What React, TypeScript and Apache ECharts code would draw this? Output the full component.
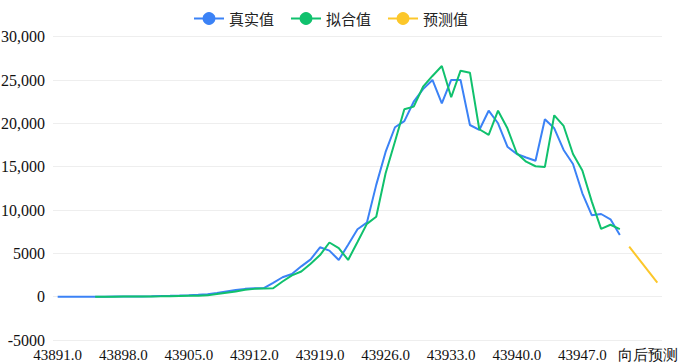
import React, { useEffect, useRef } from "react";
import * as echarts from "echarts";

const dateCategories: string[] = [];
for (let d = 43891; d <= 43951; d++) dateCategories.push(d.toFixed(1));
const forecastCategories = ["向后预测", "向后预测", "向后预测", "向后预测"];
const categories = [...dateCategories, ...forecastCategories];

const actualValues = [
  0, 0, 0, 0, 0, 0, 10, 10, 20, 30, 50, 80, 100, 130, 170, 220, 280, 420, 600, 770,
  900, 970, 1000, 1600, 2240, 2620, 3500, 4300, 5700, 5310, 4240, 6000, 7780, 8540, 12900, 16700,
  19550, 20250, 22500, 23950, 25010, 22320, 25010, 25010, 19810, 19240, 21460, 20010, 17310, 16470,
  16060, 15690, 20470, 19430, 16930, 15310, 11930, 9400, 9540, 8930, 7120,
];

const fittedValues = [
  null, null, null, null, 0, 0, 5, 10, 15, 20, 30, 40, 60, 80, 100, 120, 150, 300, 450, 600,
  800, 900, 950, 970, 1750, 2450, 2900, 3800, 4800, 6250, 5600, 4240, 6300, 8400, 9230, 14240,
  17900, 21630, 21930, 24230, 25470, 26620, 23010, 26080, 25850, 19320, 18660, 21460, 19430, 16550,
  15580, 15050, 14970, 20930, 19700, 16470, 14560, 11000, 7830, 8300, 7800,
];

const forecastValues = [5770, 4390, 3000, 1620];

const yTicks = { min: -5000, max: 30000, interval: 5000 };

const serif = "Liberation Serif";

export default function App() {
  const ref = useRef<HTMLDivElement>(null);
  useEffect(() => {
    if (!ref.current) return;
    const chart = echarts.init(ref.current, null, { renderer: "svg" });
    const nF = dateCategories.length;
    const forecastSeries = [...new Array(nF).fill(null), ...forecastValues];
    const fmt = (v: number) => {
      if (Math.abs(v) >= 10000) {
        const s = Math.abs(v).toString().replace(/\B(?=(\d{3})+(?!\d))/g, ",");
        return (v < 0 ? "-" : "") + s;
      }
      return String(v);
    };
    chart.setOption({
      animation: false,
      legend: {
        left: 188,
        top: 6,
        itemWidth: 30,
        itemHeight: 16,
        itemGap: 16,
        textStyle: { fontSize: 15, color: "#222", fontFamily: "Noto Sans CJK SC" },
        data: ["真实值", "拟合值", "预测值"],
      },
      grid: { left: 53, right: 21, top: 36.7, bottom: 24, containLabel: false, outerBoundsMode: "none" },
      xAxis: {
        type: "category",
        data: categories,
        boundaryGap: true,
        axisLine: { show: false, onZero: false },
        axisTick: { show: false },
        axisLabel: { interval: 6, fontSize: 15, color: "#111", margin: 7, fontFamily: serif },
      },
      yAxis: {
        type: "value",
        min: yTicks.min,
        max: yTicks.max,
        interval: yTicks.interval,
        axisLine: { show: false },
        axisTick: { show: false },
        axisLabel: { fontSize: 16, color: "#111", margin: 8, formatter: fmt, fontFamily: serif },
        splitLine: { lineStyle: { color: "#eeeeee", width: 1 } },
      },
      series: [
        {
          name: "真实值",
          type: "line",
          data: actualValues,
          symbol: "circle",
          showSymbol: false,
          lineStyle: { width: 2, color: "#3b82f6" },
          itemStyle: { color: "#3b82f6" },
        },
        {
          name: "拟合值",
          type: "line",
          data: fittedValues,
          symbol: "circle",
          showSymbol: false,
          lineStyle: { width: 2, color: "#10c16d" },
          itemStyle: { color: "#10c16d" },
        },
        {
          name: "预测值",
          type: "line",
          data: forecastSeries,
          symbol: "circle",
          showSymbol: false,
          lineStyle: { width: 2, color: "#fcc72a" },
          itemStyle: { color: "#fcc72a" },
        },
      ],
    });
    return () => chart.dispose();
  }, []);
  return <div ref={ref} style={{ width: 683, height: 364, position: "absolute", left: 0, top: 0 }} />;
}
